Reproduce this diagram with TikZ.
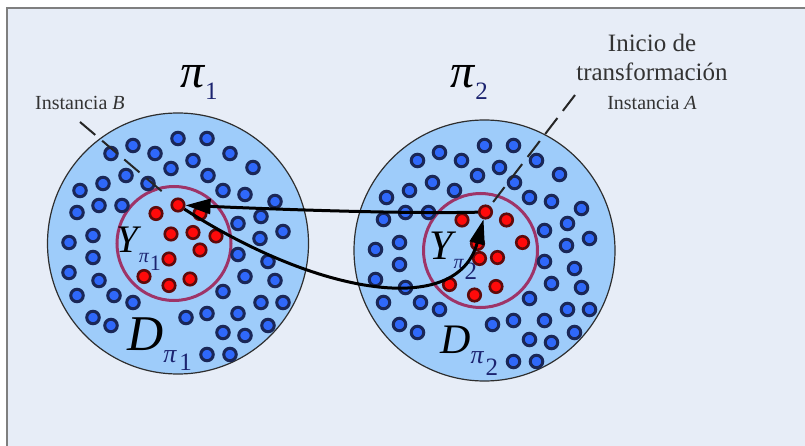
\documentclass[tikz,border=0pt]{standalone}
\usepackage{fontspec}
\setmainfont{Liberation Serif}
\usetikzlibrary{arrows.meta}

\definecolor{bgcol}{HTML}{E7EDF7}
\definecolor{framecol}{HTML}{7F7F7F}
\definecolor{domblue}{HTML}{9ECCFA}
\definecolor{rimgray}{HTML}{2E2E2E}
\definecolor{ringcol}{HTML}{9E3468}
\definecolor{dotblue}{HTML}{2F68FA}
\definecolor{dotrim}{HTML}{1A2757}
\definecolor{dotred}{HTML}{FF0A0A}
\definecolor{redrim}{HTML}{5E0A0A}
\definecolor{labcol}{HTML}{333333}
\definecolor{subcol}{HTML}{1C2470}

\newcommand{\fs}[1]{\fontsize{#1}{#1}\selectfont}

\def\bluedots{0/-105, 29/-105, -45/-98, -67/-90, -23/-90, 15/-83, 52/-90, -7/-75, 75/-76, -52/-68, 30/-68, -75/-60, -30/-60, 45/-53, 67/-49, -98/-53, 97/-42, -101/-31, -79/-38, -56/-38, 60/-20, 83/-27, 105/-12, -85/-8, -109/-1, 82/-5, -85/14, 60/11, 90/18, -109/29, -79/37, 67/33, 97/37, -101/52, -64/52, -45/59, 45/48, 83/59, 105/59, -85/74, -67/82, 8/74, 29/70, 60/70, 45/89, 67/92, 90/82, 29/111, 52/111}
\def\redleft{-22/-30, 22/-30, -7/-9.5, 15/-11, 38/-7.5, 22/6.5, -9/15.5, -34/33, -9/42, 12/35.5}
\def\redright{-22.5/-30.5, 22/-30.5, 38/-8, -7/-7, -5/8, 13/7, -35/34, -10/44.5, 11.5/36}

\tikzset{
  bluedot/.style={circle, draw=dotrim, fill=dotblue, line width=3pt, minimum size=12.5pt, inner sep=0pt},
  reddot/.style={circle, draw=redrim, fill=dotred, line width=2.6pt, minimum size=12.5pt, inner sep=0pt},
  domcircle/.style={draw=rimgray, fill=domblue, line width=1.2pt},
  innerring/.style={draw=ringcol, line width=3pt},
  arr/.style={-{Triangle[length=25pt,width=15pt]}, line width=3pt},
  leader/.style={draw=black!85, line width=2pt, dash pattern=on 20pt off 9pt},
  lbl/.style={inner sep=0pt, text=labcol},
  sym/.style={inner sep=0pt, text=black, anchor=base west}
}

\begin{document}
\begin{tikzpicture}[x=1pt, y=-1pt]
  \useasboundingbox (0,0) rectangle (805,446);
  \fill[white] (0,0) rectangle (805,446);
  \fill[bgcol] (7,8) rectangle (805,446);
  \draw[framecol, line width=2pt] (7,446) -- (7,8) -- (805,8);

  % the two domains with their points
  \foreach \cx/\cy/\k in {178/243.5/1, 484.5/250.5/2} {
    \begin{scope}[shift={(\cx,\cy)}]
      \draw[domcircle] (0,0) circle[radius=130.5pt];
      \draw[innerring] (-4,0) circle[radius=57pt];
      \foreach \dx/\dy [count=\i] in \bluedots
        \node[bluedot] (b\k-\i) at (\dx,\dy) {};
    \end{scope}
  }

  \begin{scope}[shift={(178,243.5)}]
    \foreach \dx/\dy [count=\i] in \redleft
      \node[reddot] (rl-\i) at (\dx,\dy) {};
    \node[reddot] (instB) at (0,-38.5) {};
  \end{scope}
  \begin{scope}[shift={(484.5,250.5)}]
    \foreach \dx/\dy [count=\i] in \redright
      \node[reddot] (rr-\i) at (\dx,\dy) {};
    \node[reddot] (instA) at (1,-38.5) {};
  \end{scope}

  % symbols
  \node[sym] (pione) at (180,88) {\fs{48}\itshape π\kern1pt\raisebox{-12pt}{\fs{25}\upshape\color{subcol}1}};
  \node[sym] (pitwo) at (450,88) {\fs{48}\itshape π\kern1pt\raisebox{-12pt}{\fs{25}\upshape\color{subcol}2}};
  \node[sym] (ypione) at (116,252) {\fs{39}\itshape Y\kern1pt\raisebox{-10pt}{\fs{20}\color{subcol}π\kern1pt\raisebox{-8pt}{\fs{22}\upshape 1}}};
  \node[sym] (ypitwo) at (429,259.3) {\fs{42}\itshape Y\kern1pt\raisebox{-9pt}{\fs{20}\color{subcol}π\kern1pt\raisebox{-11pt}{\fs{25}\upshape 2}}};
  \node[sym] (dpione) at (127,350) {\fs{50}\itshape D\raisebox{-12pt}{\fs{26}\color{subcol}π\kern3pt\raisebox{-8pt}{\fs{25}\upshape 1}}};
  \node[sym] (dpitwo) at (440,353) {\fs{42}\itshape D\raisebox{-10pt}{\fs{26}\color{subcol}π\kern2pt\raisebox{-12pt}{\fs{25}\upshape 2}}};

  % texts
  \node[lbl, anchor=base west] (lblB) at (35,110) {\fs{20}Instancia \textit{B}};
  \node[lbl, anchor=base] (lblInicio) at (652,51.7) {\fs{25}Inicio de};
  \node[lbl, anchor=base] (lblTrans) at (652,81) {\fs{25}transformación};
  \node[lbl, anchor=base] (lblA) at (652,110) {\fs{20}Instancia \textit{A}};

  % leaders
  \coordinate (endB) at (80,122);
  \coordinate (endA) at (575,95);
  \draw[leader, shorten >=13pt] (endB) -- (instB);
  \draw[leader, shorten >=5pt] (endA) -- (instA);

  % transformation arrows
  \draw[arr] (instA) .. controls (400,214) and (270,209) .. (instB);
  \draw[arr] (instB) .. controls (318,295) and (457,318) .. (instA);
\end{tikzpicture}
\end{document}
